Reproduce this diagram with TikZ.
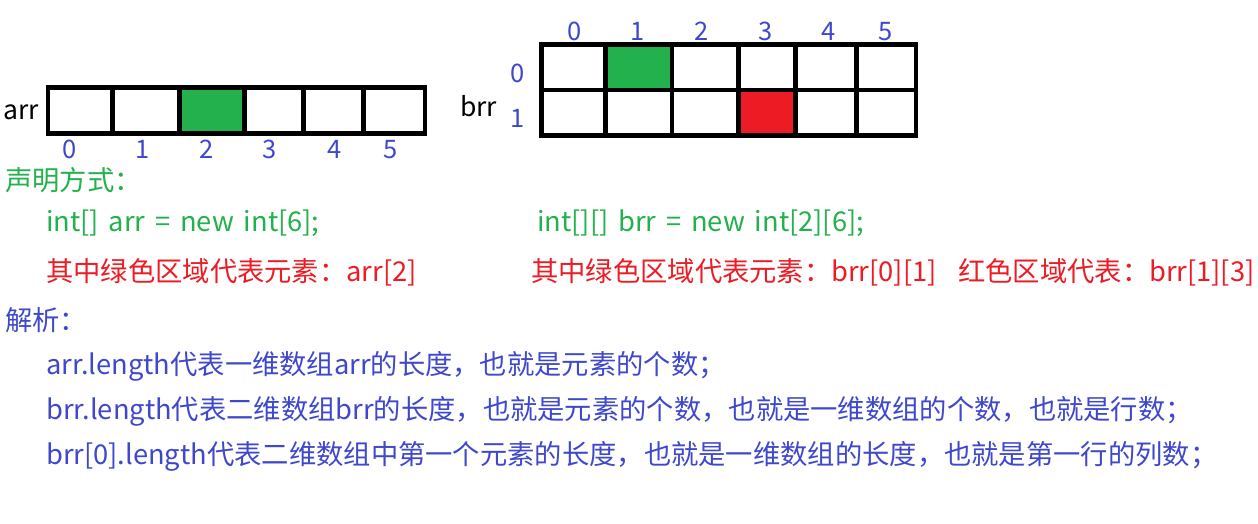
\documentclass[tikz,border=0pt]{standalone}
\usepackage{fontspec}
\setmainfont{Noto Sans CJK SC}
\definecolor{cg}{HTML}{22B14C}
\definecolor{cr}{HTML}{ED1C24}
\definecolor{cb}{HTML}{3F48CC}
\newcommand\mywidespace{\spaceskip=0.36em plus 0.1em\relax}
\tikzset{
  txt/.style={anchor=base west, inner sep=0pt, font={\fontsize{27.3}{32}\selectfont}},
  code/.style={anchor=base west, inner sep=0pt, font={\fontsize{27.3}{32}\selectfont\mywidespace}},
  lab/.style={anchor=base west, inner sep=0pt, font={\fontsize{26.5}{30}\selectfont}},
  idx/.style={anchor=base, inner sep=0pt, text=cb, font={\fontsize{25.5}{30}\selectfont}},
  grid/.style={line width=4.5pt, draw=black},
}
\begin{document}
\begin{tikzpicture}[x=1pt,y=-1pt]
\useasboundingbox (0,0) rectangle (1258,524);
\fill[white] (0,0) rectangle (1258,524);
% arr
\fill[cg] (179.5,87.5) rectangle (244.5,133.5);
\draw[grid] (48,87.5) rectangle (425,133.5);
\foreach \x in {112.5,179.5,244.5,303.5,363.5}{\draw[grid] (\x,87.5) -- (\x,133.5);}
\node[lab] (arrlab) at (3,120) {arr};
\foreach \x/\t [count=\i] in {70/0,143/1,207/2,270/3,335/4,391/5}{\node[idx] (a\i) at (\x,158) {\t};}
% brr
\fill[cg] (605.5,44.5) rectangle (672,90);
\fill[cr] (738.5,90) rectangle (795.5,135.5);
\draw[grid] (541.5,44.5) rectangle (916,135.5);
\draw[grid] (541.5,90) -- (916,90);
\foreach \x in {605.5,672,738.5,795.5,856.5}{\draw[grid] (\x,44.5) -- (\x,135.5);}
\node[lab] (brrlab) at (460,117) {brr};
\foreach \x/\t [count=\i] in {575/0,638/1,702/2,766/3,829/4,886/5}{\node[idx] (b\i) at (\x,41) {\t};}
\node[idx] (r0) at (518,83) {0};
\node[idx] (r1) at (518,128) {1};
% texts
\node[txt, text=cg] (t1) at (5,190) {声明方式：};
\node[code, text=cg] (t2) at (46,231) {int[] arr = new int[6];};
\node[code, text=cg] (t3) at (537,231) {int[][] brr = new int[2][6];};
\node[txt, text=cr] (t4) at (46,281) {其中绿色区域代表元素：arr[2]};
\node[txt, text=cr] (t5) at (531,281) {其中绿色区域代表元素：brr[0][1]};
\node[txt, text=cr] (t6) at (958,281) {红色区域代表：brr[1][3]};
\node[txt, text=cb] (t7) at (5,330) {解析：};
\node[txt, text=cb] (t8) at (46,374) {arr.length代表一维数组arr的长度，也就是元素的个数；};
\node[txt, text=cb] (t9) at (46,419) {brr.length代表二维数组brr的长度，也就是元素的个数，也就是一维数组的个数，也就是行数；};
\node[txt, text=cb] (t10) at (46,464) {brr[0].length代表二维数组中第一个元素的长度，也就是一维数组的长度，也就是第一行的列数；};
\end{tikzpicture}
\end{document}
